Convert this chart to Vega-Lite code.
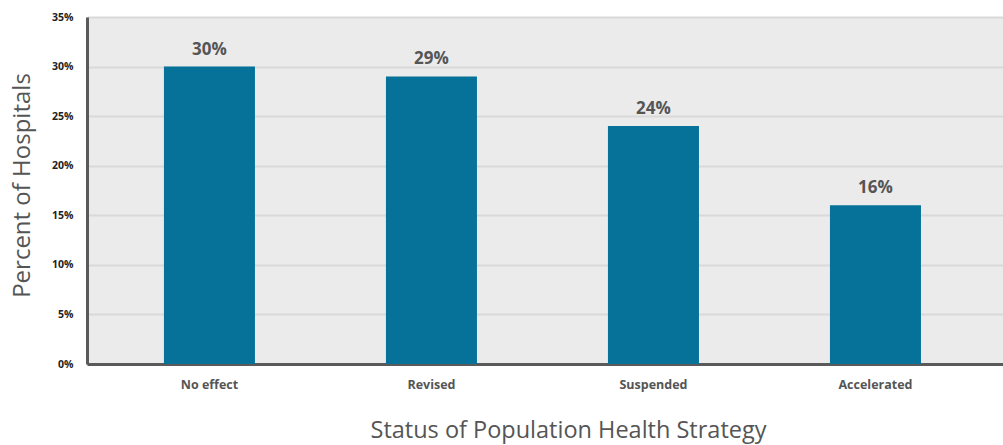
{
  "$schema": "https://vega.github.io/schema/vega-lite/v6.json",
  "autosize": {"type": "none"},
  "width": 916,
  "height": 347,
  "padding": {"left": 87, "top": 17, "right": 0, "bottom": 81},
  "background": "white",
  "config": {
    "font": "Open Sans",
    "view": {"fill": "#ebebeb", "stroke": null}
  },
  "data": {
    "values": [
      {"status": "No effect", "share": 0.30},
      {"status": "Revised", "share": 0.29},
      {"status": "Suspended", "share": 0.24},
      {"status": "Accelerated", "share": 0.16}
    ]
  },
  "encoding": {
    "x": {
      "field": "status",
      "type": "nominal",
      "sort": null,
      "scale": {"paddingInner": 0.59, "paddingOuter": 0.358, "align": 0.484},
      "axis": {
        "title": "Status of Population Health Strategy",
        "titleFont": "Open Sans",
        "titleFontSize": 23.5,
        "titleFontWeight": 500,
        "titleColor": "#555555",
        "titlePadding": 28,
        "titleX": 481,
        "labelAngle": 0,
        "labelFontSize": 12.5,
        "labelFontWeight": "bold",
        "labelColor": "#555555",
        "labelPadding": 14,
        "ticks": false,
        "domainColor": "#5a5a5a",
        "domainWidth": 3
      }
    },
    "y": {
      "field": "share",
      "type": "quantitative",
      "scale": {"domain": [0, 0.35]},
      "axis": {
        "title": "Percent of Hospitals",
        "titleFont": "Open Sans",
        "titleFontSize": 24,
        "titleFontWeight": 500,
        "titleColor": "#555555",
        "titlePadding": 17,
        "titleY": 168,
        "values": [0, 0.05, 0.1, 0.15, 0.2, 0.25, 0.3, 0.35],
        "format": ".0%",
        "labelFontSize": 10.5,
        "labelFontWeight": "bold",
        "labelColor": "#222222",
        "labelPadding": 14,
        "ticks": false,
        "domainColor": "#5a5a5a",
        "domainWidth": 3,
        "grid": true,
        "gridColor": "#d9d9d9",
        "gridWidth": 2
      }
    }
  },
  "layer": [
    {
      "mark": {"type": "bar", "color": "#067299"}
    },
    {
      "mark": {
        "type": "text",
        "baseline": "alphabetic",
        "dy": -12,
        "fontSize": 17,
        "fontWeight": "bold",
        "color": "#555555"
      },
      "encoding": {
        "text": {"field": "share", "type": "quantitative", "format": ".0%"}
      }
    }
  ]
}
